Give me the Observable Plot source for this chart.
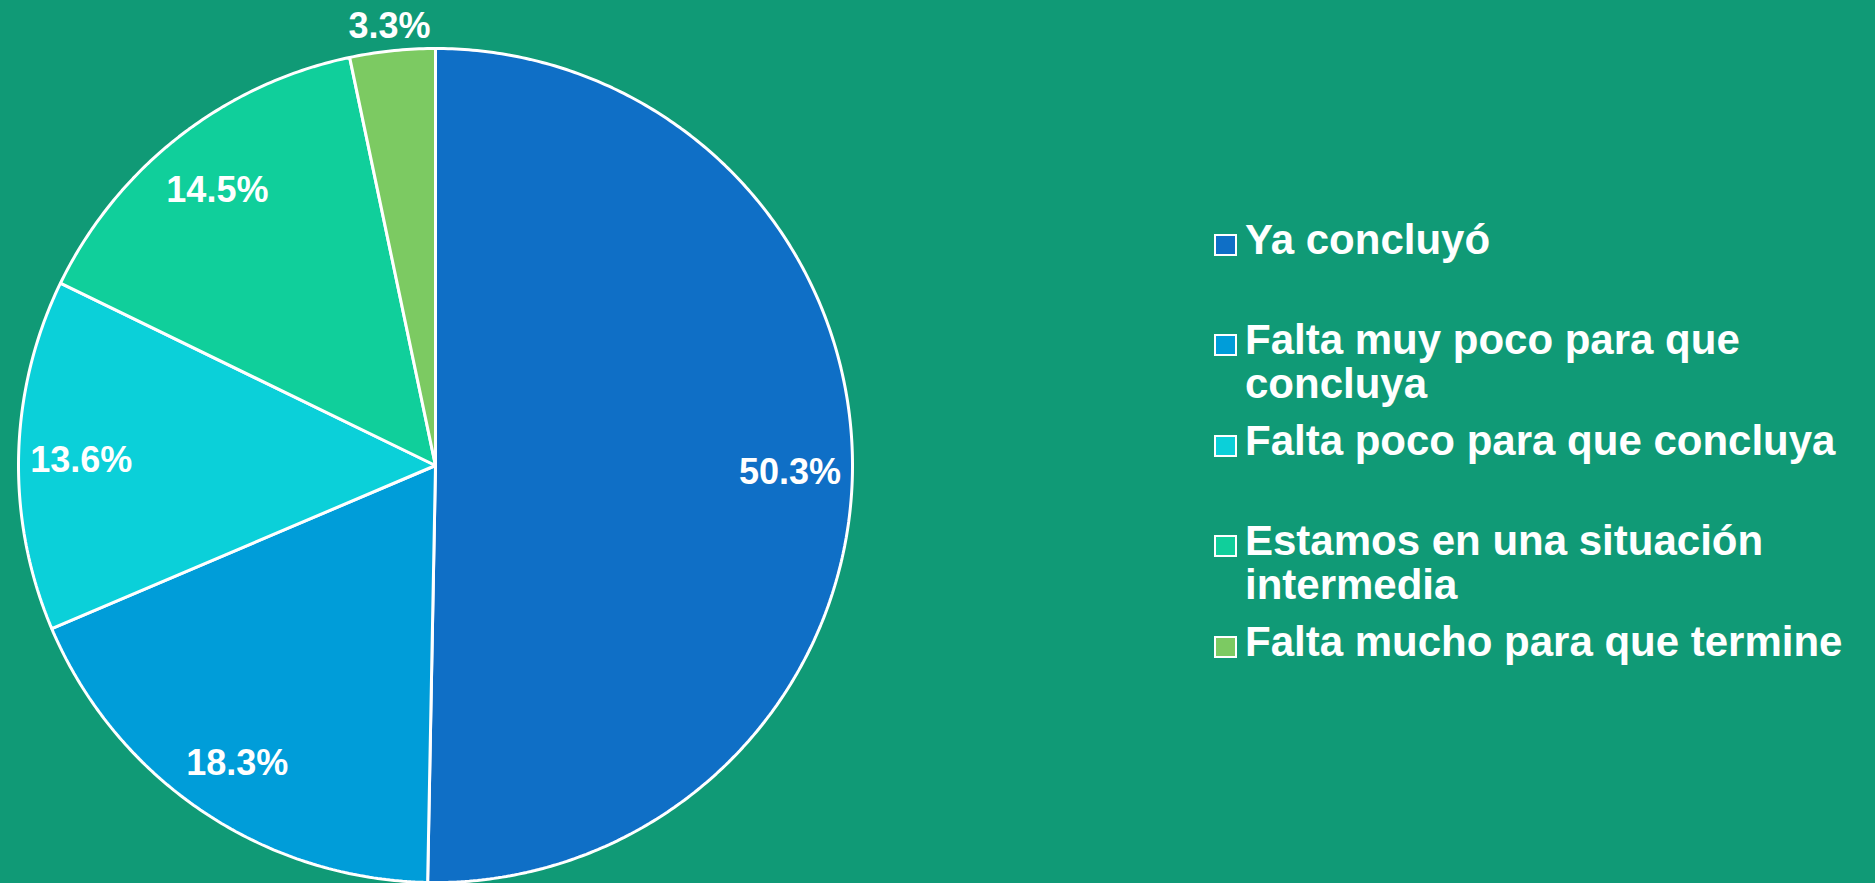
<!DOCTYPE html>
<html><head><meta charset="utf-8">
<script src="https://cdn.jsdelivr.net/npm/d3@7"></script>
<script src="https://cdn.jsdelivr.net/npm/@observablehq/plot@0.6"></script>
<style>
html,body{margin:0;padding:0;background:#109A76;width:1875px;height:883px;overflow:hidden;font-family:"Liberation Sans",Arial,Helvetica,sans-serif;}
#chart{position:absolute;left:0;top:0;}
.item{position:absolute;left:1214px;width:660px;color:#fff;font-weight:bold;font-size:42px;line-height:44px;}
.item .txt{display:block;margin-left:31px;max-width:620px;}
.item .sw{position:absolute;left:0;top:16px;width:23px;height:22px;box-sizing:border-box;border:2.5px solid #fff;}
</style></head><body>
<div id="chart"></div>
<div id="legend"></div>
<script>
const categories = ["Ya concluyó", "Falta muy poco para que concluya", "Falta poco para que concluya", "Estamos en una situación intermedia", "Falta mucho para que termine"];
const values = [50.3, 18.3, 13.6, 14.5, 3.3];
const colors = ["#0F6FC6", "#009DD9", "#0BD0D9", "#10CF9B", "#7CCA62"];

const rows = categories.map((c, i) => ({key: c, value: values[i]}));
const arcs = d3.pie().sort(null).value(d => d.value)(rows);

// slice outlines in unit coordinates (angle clockwise from top)
const pts = [];
for (const a of arcs) {
  const n = Math.max(4, Math.ceil((a.endAngle - a.startAngle) / 0.01));
  pts.push({key: a.data.key, x: 0, y: 0});
  for (let k = 0; k <= n; k++) {
    const t = a.startAngle + (a.endAngle - a.startAngle) * k / n;
    pts.push({key: a.data.key, x: Math.sin(t), y: Math.cos(t)});
  }
}
const labs = arcs.map(a => {
  const m = (a.startAngle + a.endAngle) / 2;
  const rr = a.data.value < 5 ? 1.067 : 0.85;
  return {x: rr * Math.sin(m), y: rr * Math.cos(m), text: a.data.value.toFixed(1) + "%"};
});

const cx = 435, cy = 465, r = 417;
const plot = Plot.plot({
  width: 1875, height: 883, margin: 0,
  style: {background: "transparent", overflow: "visible", fontFamily: "'Liberation Sans', Arial, sans-serif"},
  x: {domain: [-1, 1], range: [cx - r, cx + r], axis: null},
  y: {domain: [-1, 1], range: [cy + r, cy - r], axis: null},
  color: {domain: categories, range: colors},
  marks: [
    Plot.line(pts, {x: "x", y: "y", z: "key", fill: "key", stroke: "white", strokeWidth: 3, curve: "linear-closed", strokeLinejoin: "miter"}),
    Plot.text(labs, {x: "x", y: "y", text: "text", fill: "white", fontSize: 36, fontWeight: "bold", dy: 4})
  ]
});
document.getElementById("chart").appendChild(plot);

const legend = document.getElementById("legend");
categories.forEach((c, i) => {
  const d = document.createElement("div");
  d.className = "item";
  d.style.top = (217.5 + i * 100.5) + "px";
  const sw = document.createElement("span");
  sw.className = "sw";
  sw.style.background = colors[i];
  const t = document.createElement("span");
  t.className = "txt";
  t.textContent = c;
  d.appendChild(sw); d.appendChild(t);
  legend.appendChild(d);
});
</script>
</body></html>
